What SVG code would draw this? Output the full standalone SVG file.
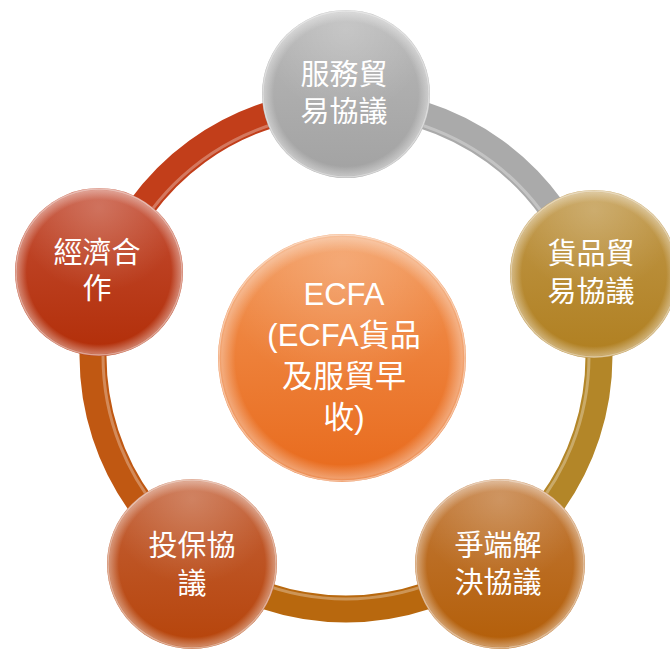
<svg xmlns="http://www.w3.org/2000/svg" width="670" height="650" viewBox="0 0 670 650">
<style>
.lbl{font-family:"Liberation Sans","Noto Sans CJK TC","Noto Sans CJK SC",sans-serif;font-size:29px;fill:#fff;text-anchor:middle;}
.clbl{font-family:"Liberation Sans","Noto Sans CJK TC",sans-serif;font-size:31px;fill:#fff;text-anchor:middle;}
.ring{fill:none;stroke-width:27;stroke-linecap:butt;}
.ringhl{fill:none;stroke-width:3;stroke:#fff;stroke-opacity:0.3;}
.rim{fill:url(#rimglow);}
.shine{fill:url(#topshine);}
.edge{fill:none;stroke:#fff;stroke-opacity:0.45;stroke-width:1.5;}
</style>
<defs>
<linearGradient id="gGray" x1="0" y1="0" x2="0" y2="1"><stop offset="0" stop-color="#b8b8b8"/><stop offset="1" stop-color="#a2a2a2"/></linearGradient>
<linearGradient id="gGold" x1="0" y1="0" x2="0" y2="1"><stop offset="0" stop-color="#c0984a"/><stop offset="1" stop-color="#b07f20"/></linearGradient>
<linearGradient id="gBR" x1="0" y1="0" x2="0" y2="1"><stop offset="0" stop-color="#c27a3a"/><stop offset="1" stop-color="#b35e08"/></linearGradient>
<linearGradient id="gBL" x1="0" y1="0" x2="0" y2="1"><stop offset="0" stop-color="#c4623a"/><stop offset="1" stop-color="#b6440a"/></linearGradient>
<linearGradient id="gL" x1="0" y1="0" x2="0" y2="1"><stop offset="0" stop-color="#c44e35"/><stop offset="1" stop-color="#b22e08"/></linearGradient>
<linearGradient id="gC" x1="0" y1="0" x2="0" y2="1"><stop offset="0" stop-color="#f29555"/><stop offset="1" stop-color="#e86a1c"/></linearGradient>
<radialGradient id="rimglow" cx="0.5" cy="0.5" r="0.5">
<stop offset="0.86" stop-color="#fff" stop-opacity="0"/>
<stop offset="0.97" stop-color="#fff" stop-opacity="0.35"/>
<stop offset="1" stop-color="#fff" stop-opacity="0.1"/>
</radialGradient>
<radialGradient id="topshine" cx="0.5" cy="0.12" r="0.5">
<stop offset="0" stop-color="#fff" stop-opacity="0.22"/>
<stop offset="1" stop-color="#fff" stop-opacity="0"/>
</radialGradient>
</defs>
<g id="connectors">
<path class="ring" stroke="#aaaaaa" d="M346 103 A253 253 0 0 1 586.6 277.8"/>
<path class="ring" stroke="#b38628" d="M586.6 277.8 A253 253 0 0 1 494.7 560.7"/>
<path class="ring" stroke="#b8680e" d="M494.7 560.7 A253 253 0 0 1 197.3 560.7"/>
<path class="ring" stroke="#c05812" d="M197.3 560.7 A253 253 0 0 1 105.4 277.8"/>
<path class="ring" stroke="#c23e1a" d="M105.4 277.8 A253 253 0 0 1 346 103"/>
<circle class="ringhl" cx="346" cy="356" r="243"/>
</g>
<g id="node-top">
<circle cx="346" cy="94" r="84" fill="url(#gGray)"/>
<circle cx="346" cy="94" r="84" class="shine"/>
<circle cx="346" cy="94" r="84" class="rim"/>
<circle cx="346" cy="94" r="83" class="edge"/>
<text class="lbl" x="344" y="85">服務貿</text>
<text class="lbl" x="344" y="122">易協議</text>
</g>
<g id="node-right">
<circle cx="594" cy="274" r="84" fill="url(#gGold)"/>
<circle cx="594" cy="274" r="84" class="shine"/>
<circle cx="594" cy="274" r="84" class="rim"/>
<circle cx="594" cy="274" r="83" class="edge"/>
<text class="lbl" x="591" y="264">貨品貿</text>
<text class="lbl" x="591" y="302">易協議</text>
</g>
<g id="node-bottom-right">
<circle cx="500" cy="564" r="85" fill="url(#gBR)"/>
<circle cx="500" cy="564" r="85" class="shine"/>
<circle cx="500" cy="564" r="85" class="rim"/>
<circle cx="500" cy="564" r="84" class="edge"/>
<text class="lbl" x="498" y="556">爭端解</text>
<text class="lbl" x="498" y="593">決協議</text>
</g>
<g id="node-bottom-left">
<circle cx="192" cy="564" r="85" fill="url(#gBL)"/>
<circle cx="192" cy="564" r="85" class="shine"/>
<circle cx="192" cy="564" r="85" class="rim"/>
<circle cx="192" cy="564" r="84" class="edge"/>
<text class="lbl" x="192" y="556">投保協</text>
<text class="lbl" x="192" y="594">議</text>
</g>
<g id="node-left">
<circle cx="99" cy="272" r="84" fill="url(#gL)"/>
<circle cx="99" cy="272" r="84" class="shine"/>
<circle cx="99" cy="272" r="84" class="rim"/>
<circle cx="99" cy="272" r="83" class="edge"/>
<text class="lbl" x="97" y="263">經濟合</text>
<text class="lbl" x="97" y="299">作</text>
</g>
<g id="node-center">
<circle cx="342" cy="358" r="124" fill="url(#gC)"/>
<circle cx="342" cy="358" r="124" class="shine"/>
<circle cx="342" cy="358" r="124" class="rim"/>
<circle cx="342" cy="358" r="123" class="edge"/>
<text class="clbl" x="344" y="305">ECFA</text>
<text class="clbl" x="344" y="346">(ECFA貨品</text>
<text class="clbl" x="344" y="387">及服貿早</text>
<text class="clbl" x="344" y="428">收)</text>
</g>
</svg>
